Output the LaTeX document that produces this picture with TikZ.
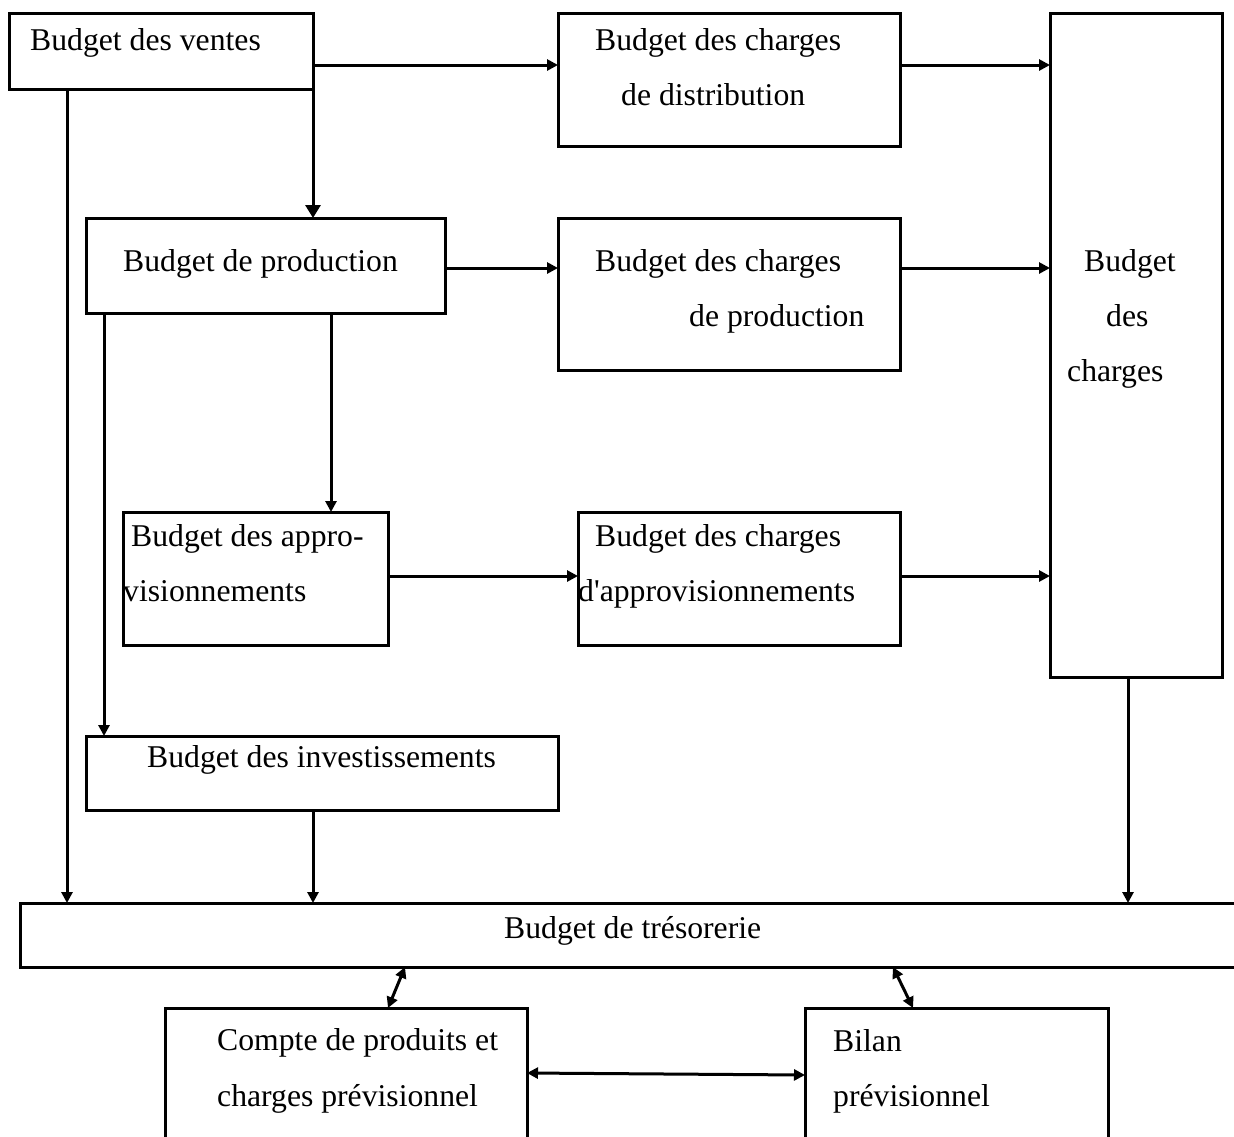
\documentclass[tikz,border=0pt]{standalone}
\usepackage{fontspec}
\setmainfont{Liberation Serif}
\usetikzlibrary{arrows.meta}
\begin{document}
\begin{tikzpicture}[x=1pt,y=-1pt,
  box/.style={draw,line width=3pt,inner sep=0pt,outer sep=0pt,anchor=north west},
  lbl/.style={anchor=base west,inner sep=0pt,font=\fontsize{31.7}{38}\selectfont},
  arr/.style={line width=3pt,-{Triangle[length=11pt,width=11pt]}},
  bigarr/.style={line width=3pt,-{Triangle[length=13pt,width=15pt]}},
  darr/.style={line width=3pt,{Triangle[length=11pt,width=11pt]}-{Triangle[length=11pt,width=11pt]}}]
\useasboundingbox (0,0) rectangle (1234,1136);
\clip (0,0) rectangle (1234,1136);

% boxes
\node[box,minimum width=304pt,minimum height=76pt]  (ventes)  at (9,13)    {};
\node[box,minimum width=342pt,minimum height=133pt] (distrib) at (558,13)  {};
\node[box,minimum width=172pt,minimum height=664pt] (charges) at (1050,13) {};
\node[box,minimum width=359pt,minimum height=95pt]  (prod)    at (86,218)  {};
\node[box,minimum width=342pt,minimum height=152pt] (chprod)  at (558,218) {};
\node[box,minimum width=265pt,minimum height=133pt] (appro)   at (123,512) {};
\node[box,minimum width=322pt,minimum height=133pt] (chappro) at (578,512) {};
\node[box,minimum width=472pt,minimum height=74pt]  (invest)  at (86,736)  {};
\node[box,minimum width=1240pt,minimum height=64pt] (tres)    at (20,903)  {};
\node[box,minimum width=362pt,minimum height=160pt] (compte)  at (165,1008) {};
\node[box,minimum width=303pt,minimum height=160pt] (bilan)   at (805,1008) {};

% labels
\node[lbl] (t-ventes)   at (30,50)    {Budget des ventes};
\node[lbl] (t-distrib1) at (595,50)   {Budget des charges};
\node[lbl] (t-distrib2) at (621,105)  {de distribution};
\node[lbl] (t-prod)     at (123,271)  {Budget de production};
\node[lbl] (t-chprod1)  at (595,271)  {Budget des charges};
\node[lbl] (t-chprod2)  at (689,326)  {de production};
\node[lbl] (t-ch1)      at (1084,271) {Budget};
\node[lbl] (t-ch2)      at (1106,326) {des};
\node[lbl] (t-ch3)      at (1067,381) {charges};
\node[lbl] (t-appro1)   at (131,546)  {Budget des appro-};
\node[lbl] (t-appro2)   at (123,601)  {visionnements};
\node[lbl] (t-chappro1) at (595,546)  {Budget des charges};
\node[lbl] (t-chappro2) at (578,601)  {d\textquotesingle approvisionnements};
\node[lbl] (t-invest)   at (147,767)  {Budget des investissements};
\node[lbl] (t-tres)     at (504,938)  {Budget de trésorerie};
\node[lbl] (t-compte1)  at (217,1050) {Compte de produits et};
\node[lbl] (t-compte2)  at (217,1106) {charges prévisionnel};
\node[lbl] (t-bilan1)   at (833,1051) {Bilan};
\node[lbl] (t-bilan2)   at (833,1106) {prévisionnel};

% connectors
\draw[arr] ([yshift=-52pt]ventes.north east) coordinate (a1) -- (a1 -| distrib.west);
\draw[bigarr] (ventes.south east) -- (ventes.south east |- prod.north);
\draw[arr] ([xshift=58pt]ventes.south west) coordinate (a2) -- (a2 |- tres.north);
\draw[arr] ([yshift=-52pt]distrib.north east) coordinate (a3) -- (a3 -| charges.west);
\draw[arr] ([yshift=-50pt]prod.north east) coordinate (a4) -- (a4 -| chprod.west);
\draw[arr] ([yshift=-50pt]chprod.north east) coordinate (a5) -- (a5 -| charges.west);
\draw[arr] ([xshift=245pt]prod.south west) coordinate (a6) -- (a6 |- appro.north);
\draw[arr] ([xshift=18pt]prod.south west) coordinate (a7) -- (a7 |- invest.north);
\draw[arr] ([yshift=-64pt]appro.north east) coordinate (a8) -- (a8 -| chappro.west);
\draw[arr] ([yshift=-64pt]chappro.north east) coordinate (a9) -- (a9 -| charges.west);
\draw[arr] ([xshift=227pt]invest.south west) coordinate (a10) -- (a10 |- tres.north);
\draw[arr] ([xshift=78pt]charges.south west) coordinate (a11) -- (a11 |- tres.north);
\draw[darr] ([xshift=385pt]tres.south west) -- ([xshift=223pt]compte.north west);
\draw[darr] ([xshift=873pt]tres.south west) -- ([xshift=108pt]bilan.north west);
\draw[darr] ([yshift=-65pt]compte.north east) -- ([yshift=-67pt]bilan.north west);
\end{tikzpicture}
\end{document}
